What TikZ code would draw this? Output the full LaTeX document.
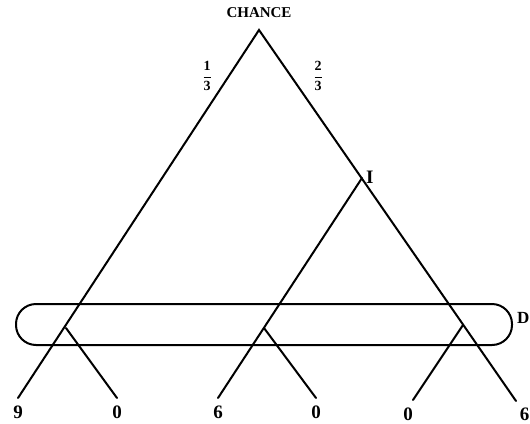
\documentclass[tikz,border=0pt]{standalone}
\usepackage{fontspec}
\setmainfont{Liberation Serif}
\begin{document}
\begin{tikzpicture}[x=1pt,y=-1pt,
  edge/.style={line width=2pt,line cap=round},
  lbl/.style={font=\bfseries\fontsize{19}{19}\selectfont,inner sep=0pt},
  frac/.style={font=\bfseries\fontsize{14}{14}\selectfont,inner sep=0pt}]
\useasboundingbox (0,0) rectangle (530,423);
% nodes
\coordinate (c) at (259,30);
\coordinate (i) at (362,178);
\coordinate (d1) at (66,328);
\coordinate (d2) at (264,328);
\coordinate (d3) at (463,325);
\coordinate (l1) at (18,398);
\coordinate (l2) at (117,398);
\coordinate (l3) at (218,398);
\coordinate (l4) at (316,398);
\coordinate (l5) at (413,400);
\coordinate (l6) at (516,401);
% labels
\node[font=\bfseries\fontsize{15}{15}\selectfont,inner sep=0pt] (chance) at (259,13) {CHANCE};
\node[frac] (p1) at (207,76) {$\displaystyle\frac{\mathbf 1}{\mathbf 3}$};
\node[frac] (p2) at (318,76) {$\displaystyle\frac{\mathbf 2}{\mathbf 3}$};
\node[lbl,anchor=west] (il) at (366,177) {I};
\node[lbl,anchor=east,font=\bfseries\fontsize{17}{17}\selectfont] (dl) at (529.5,318) {D};
\node[lbl] (v1) at (18,412) {9};
\node[lbl] (v2) at (117,412) {0};
\node[lbl] (v3) at (218,412) {6};
\node[lbl] (v4) at (316,412) {0};
\node[lbl] (v5) at (408,414) {0};
\node[lbl,anchor=east] (v6) at (529.5,414) {6};
% edges
\draw[edge] (l1) -- (c) -- (l6);
\draw[edge] (i) -- (l3);
\draw[edge] (d1) -- (l2);
\draw[edge] (d2) -- (l4);
\draw[edge] (d3) -- (l5);
% information set
\draw[line width=2pt,rounded corners=20pt] (16,304) rectangle (512,345);
\end{tikzpicture}
\end{document}
